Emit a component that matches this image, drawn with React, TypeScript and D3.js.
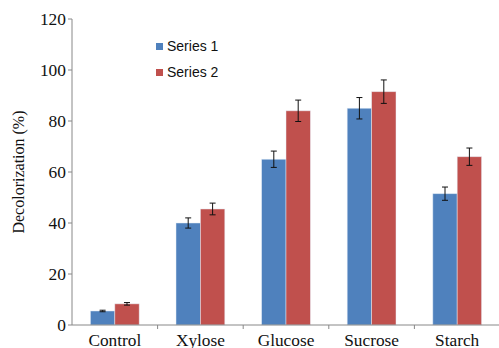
import * as d3 from 'd3';

// categories and series
const categories = ['Control', 'Xylose', 'Glucose', 'Sucrose', 'Starch'];
const seriesNames = ['Series 1', 'Series 2'];
const series1 = [5.5, 40, 65, 85, 51.5];
const series2 = [8.3, 45.5, 84, 91.5, 66];
const err1 = [0.3, 2, 3.2, 4.2, 2.6];
const err2 = [0.5, 2.3, 4.2, 4.6, 3.4];
const yTicks = [0, 20, 40, 60, 80, 100, 120];

const colors = ['#4F81BD', '#C0504D'];
const serifStyle = { fontFamily: '"Liberation Serif", "DejaVu Serif", serif' };

export default function App() {
  const width = 499;
  const height = 348;
  const margin = { top: 19, right: -1, bottom: 23, left: 72 };
  const innerW = width - margin.left - margin.right;
  const innerH = height - margin.top - margin.bottom;

  const x = d3.scaleBand<string>()
    .domain(categories)
    .range([0, innerW])
    .paddingInner(0)
    .paddingOuter(0);

  const inner = d3.scaleBand<string>()
    .domain(seriesNames)
    .range([x.bandwidth() * 0.215, x.bandwidth() * 0.785]);

  const y = d3.scaleLinear().domain([0, 120]).range([innerH, 0]);

  const data = [series1, series2];
  const errs = [err1, err2];
  const axisColor = '#888888';

  return (
    <svg width={width} height={height} style={{ position: 'absolute', left: 0, top: 0 }}>
      <rect width={width} height={height} fill="#fff" />
      <g transform={`translate(${margin.left},${margin.top})`}>
        {/* bars */}
        {data.map((vals, si) =>
          vals.map((v, i) => (
            <rect
              key={`b${si}-${i}`}
              x={x(categories[i])! + inner(seriesNames[si])!}
              y={y(v)}
              width={inner.bandwidth()}
              height={innerH - y(v)}
              fill={colors[si]}
              stroke="#e8eef8"
              strokeOpacity={0.6}
              strokeWidth={0.8}
            />
          ))
        )}
        {/* error bars */}
        {data.map((vals, si) =>
          vals.map((v, i) => {
            const cx = x(categories[i])! + inner(seriesNames[si])! + inner.bandwidth() / 2;
            const e = errs[si][i];
            return (
              <g key={`e${si}-${i}`} stroke="#111" strokeWidth={1}>
                <line x1={cx} x2={cx} y1={y(v + e)} y2={y(v - e)} />
                <line x1={cx - 3} x2={cx + 3} y1={y(v + e)} y2={y(v + e)} />
                <line x1={cx - 3} x2={cx + 3} y1={y(v - e)} y2={y(v - e)} />
              </g>
            );
          })
        )}
        {/* y axis */}
        <line x1={0} x2={0} y1={0} y2={innerH} stroke={axisColor} />
        {yTicks.map(t => (
          <g key={`yt${t}`}>
            <line x1={-4} x2={0} y1={y(t)} y2={y(t)} stroke={axisColor} />
            <text
              x={-6}
              y={y(t)}
              dy="0.33em"
              textAnchor="end"
              style={serifStyle}
              fontSize={17.4}
              fill="#111"
            >
              {t}
            </text>
          </g>
        ))}
        {/* x axis */}
        <line x1={0} x2={innerW} y1={innerH} y2={innerH} stroke={axisColor} />
        {categories.map((c, i) => (
          <g key={`xt${c}`}>
            {i > 0 && (
              <line x1={x(c)!} x2={x(c)!} y1={innerH} y2={innerH + 4} stroke={axisColor} />
            )}
            <text
              x={x(c)! + x.bandwidth() / 2}
              y={innerH + 21}
              textAnchor="middle"
              style={serifStyle}
              fontSize={17.3}
              fill="#111"
            >
              {c}
            </text>
          </g>
        ))}
        {/* y label */}
        <text
          transform={`translate(${18 - margin.left},${172 - margin.top}) rotate(-90)`}
          dy="0.35em"
          textAnchor="middle"
          style={serifStyle}
          fontSize={16}
          fill="#111"
        >
          Decolorization (%)
        </text>
      </g>
      {/* legend */}
      {seriesNames.map((s, i) => (
        <g key={`lg${s}`} transform={`translate(156,${43 + i * 26})`}>
          <rect width={7} height={7} fill={colors[i]} />
          <text
            x={11}
            y={3.5}
            dy="0.35em"
            style={{ fontFamily: '"Liberation Sans", Arial, sans-serif' }}
            fontSize={14}
            fill="#111"
          >
            {s}
          </text>
        </g>
      ))}
    </svg>
  );
}
